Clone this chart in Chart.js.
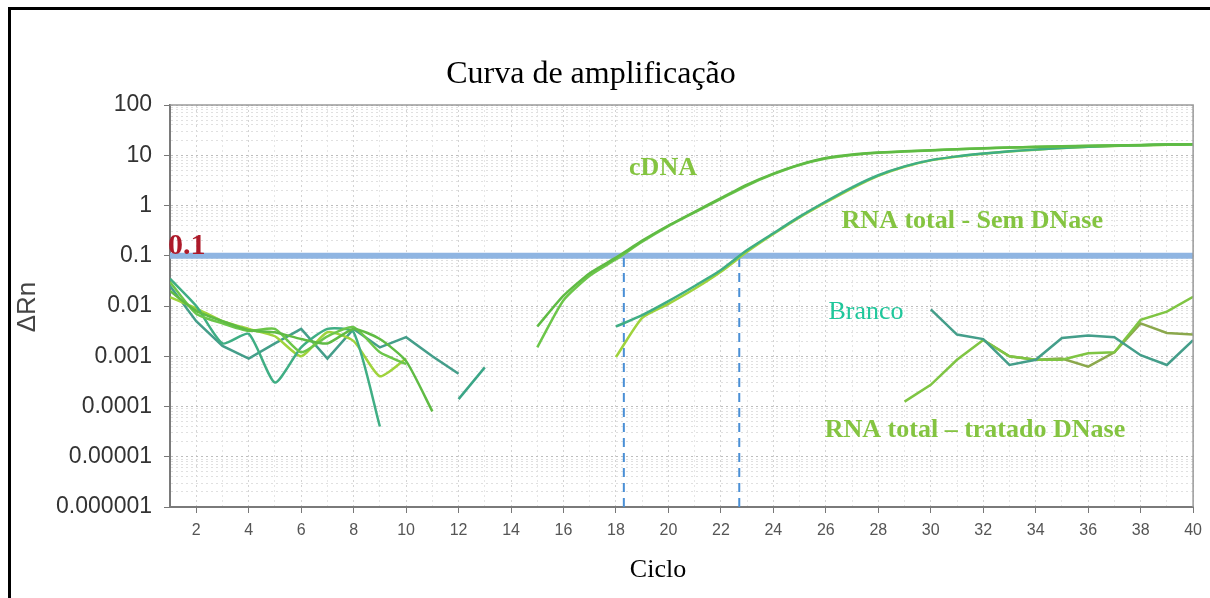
<!DOCTYPE html>
<html lang="pt">
<head>
<meta charset="utf-8">
<title>Curva de amplificação</title>
<script src="https://cdn.jsdelivr.net/npm/chart.js@4"></script>
<style>
  html, body { margin: 0; padding: 0; background: #fff; overflow: hidden; }
  #moldura { position: absolute; left: 8px; top: 7px; width: 1300px; height: 700px; border: 3px solid #000; }
  canvas { position: absolute; left: 0; top: 0; }
</style>
</head>
<body>
<div id="moldura"></div>
<canvas id="grafico" width="1210" height="598"></canvas>
<script>
// Ciclos de PCR
const ciclos = [1, 2, 3, 4, 5, 6, 7, 8, 9, 10, 11, 12, 13, 14, 15, 16, 17, 18, 19, 20,
                21, 22, 23, 24, 25, 26, 27, 28, 29, 30, 31, 32, 33, 34, 35, 36, 37, 38, 39, 40];

// ΔRn por poço (null = sem leitura)
const cdna1 = [0.020, 0.008, 0.005, 0.0033, 0.003, 0.0022, 0.0018, 0.0035, 0.0022, 0.0008,
               0.00008, null, null, null, 0.0039, 0.016, 0.045, 0.092, 0.20, 0.40,
               0.75, 1.4, 2.6, 4.3, 6.5, 8.8, 10.3, 11.3, 12.0, 12.6,
               13.2, 13.8, 14.3, 14.7, 15.1, 15.4, 15.7, 16.0, 16.3, 16.6];
const cdna2 = [0.030, 0.007, 0.0045, 0.0032, 0.0035, 0.0012, 0.0025, 0.0038, 0.0012, 0.0007,
               null, null, null, null, 0.0015, 0.013, 0.040, 0.085, 0.19, 0.39,
               0.73, 1.35, 2.5, 4.2, 6.4, 8.6, 10.1, 11.2, 11.9, 12.5,
               13.1, 13.7, 14.2, 14.6, 15.0, 15.3, 15.6, 15.9, 16.2, 16.5];
const semDnase1 = [0.035, 0.010, 0.0018, 0.0028, 0.0003, 0.0015, 0.0035, 0.0030, 0.00004, null,
                   null, null, null, null, null, null, null, 0.0039, 0.0066, 0.0125,
                   0.025, 0.052, 0.13, 0.28, 0.60, 1.2, 2.3, 4.0, 6.0, 8.0,
                   9.5, 10.8, 12.0, 13.0, 14.0, 14.8, 15.4, 15.9, 16.3, 16.6];
const semDnase2 = [0.015, 0.009, 0.005, 0.0035, 0.0025, 0.0010, 0.0030, 0.0020, 0.0004, 0.0009,
                   null, null, null, null, null, null, null, 0.00096, 0.0058, 0.011,
                   0.022, 0.048, 0.12, 0.27, 0.58, 1.15, 2.2, 3.9, 5.9, 7.9,
                   9.4, 10.7, 11.9, 12.9, 13.9, 14.7, 15.3, 15.8, 16.2, 16.5];
const branco1 = [0.025, 0.005, 0.0016, 0.0009, 0.0018, 0.0035, 0.0009, 0.0035, 0.0015, 0.0024,
                 0.0010, 0.00045, null, null, null, null, null, null, null, null,
                 null, null, null, null, null, null, null, null, null, 0.0086,
                 0.0027, 0.0022, 0.00067, 0.00085, 0.0023, 0.0026, 0.0024, 0.00105, 0.00067, 0.0021];
const branco2 = [null, null, null, null, null, null, null, null, null, null,
                 null, 0.00014, 0.0006, null, null, null, null, null, null, null,
                 null, null, null, null, null, null, null, null, null, null,
                 null, null, null, null, null, null, null, null, null, null];
const tratado1 = [null, null, null, null, null, null, null, null, null, null,
                  null, null, null, null, null, null, null, null, null, null,
                  null, null, null, null, null, null, null, null, 0.000125, 0.00027,
                  0.00085, 0.0021, 0.0010, 0.00085, 0.00085, 0.00115, 0.0012, 0.0053, 0.0077, 0.0153];
const tratado2 = [null, null, null, null, null, null, null, null, null, null,
                  null, null, null, null, null, null, null, null, null, null,
                  null, null, null, null, null, null, null, null, null, null,
                  null, 0.0021, 0.0010, 0.00085, 0.0009, 0.00062, 0.0012, 0.0045, 0.0029, 0.0027];

// Limiar e Ct
const limiar = 0.1;
const ctAmostras = [18.3, 22.7];

// Rótulos dos eixos
const decadasY = [0.000001, 0.00001, 0.0001, 0.001, 0.01, 0.1, 1, 10, 100];
const rotulosY = ['0.000001', '0.00001', '0.0001', '0.001', '0.01', '0.1', '1', '10', '100'];
const rotulosX = [2, 4, 6, 8, 10, 12, 14, 16, 18, 20, 22, 24, 26, 28, 30, 32, 34, 36, 38, 40];

// Textos sobre o gráfico (posição em ciclo / ΔRn)
const anotacoes = [
    { texto: 'cDNA', ciclo: 18.5, valor: 4.05, fonte: 'bold 26px "Liberation Serif"', cor: '#84c441' },
    { texto: 'RNA total - Sem DNase', ciclo: 26.6, valor: 0.356, fonte: 'bold 26px "Liberation Serif"', cor: '#84c441' },
    { texto: 'Branco', ciclo: 26.1, valor: 0.0055, fonte: '26px "Liberation Serif"', cor: '#1fc79b' },
    { texto: 'RNA total – tratado DNase', ciclo: 25.96, valor: 0.0000247, fonte: 'bold 26px "Liberation Serif"', cor: '#84c441' },
    { texto: '0.1', ciclo: 0.92, valor: 0.108, fonte: 'bold 30px "Liberation Serif"', cor: '#ad1a2a' }
];

function pontos(serie) {
    return ciclos.map((c, i) => ({ x: c, y: serie[i] }));
}

function ehDecada(v) {
    const l = Math.log10(v);
    return Math.abs(l - Math.round(l)) < 1e-9;
}

function curva(serie, cor, tensao) {
    return {
        data: pontos(serie),
        borderColor: cor,
        borderWidth: 2.5,
        pointRadius: 0,
        tension: tensao,
        spanGaps: false,
        order: 1
    };
}

const linhasCt = ctAmostras.map(ct => ({
    data: [{ x: ct, y: decadasY[0] }, { x: ct, y: limiar }],
    borderColor: '#4a8fd6',
    borderWidth: 2,
    borderDash: [9, 6],
    pointRadius: 0,
    order: 5
}));

const extras = {
    id: 'extras',
    afterDraw(chart) {
        const ctx = chart.ctx;
        const area = chart.chartArea;
        const sx = chart.scales.x, sy = chart.scales.y;
        ctx.save();

        // bordas superior e direita da área
        ctx.strokeStyle = '#9a9a9a';
        ctx.lineWidth = 1.5;
        ctx.beginPath();
        ctx.moveTo(area.left, area.top);
        ctx.lineTo(area.right, area.top);
        ctx.lineTo(area.right, area.bottom);
        ctx.stroke();

        // título e eixos
        ctx.fillStyle = '#000';
        ctx.textAlign = 'center';
        ctx.textBaseline = 'alphabetic';
        ctx.font = '32px "Liberation Serif"';
        ctx.fillText('Curva de amplificação', 591, 83);
        ctx.font = '26px "Liberation Serif"';
        ctx.fillText('Ciclo', 658, 577);

        ctx.save();
        ctx.translate(35, 307);
        ctx.rotate(-Math.PI / 2);
        ctx.fillStyle = '#444';
        ctx.font = '26px "Liberation Sans"';
        ctx.fillText('ΔRn', 0, 0);
        ctx.restore();

        // anotações
        ctx.textAlign = 'left';
        anotacoes.forEach(a => {
            ctx.font = a.fonte;
            ctx.fillStyle = a.cor;
            ctx.fillText(a.texto, sx.getPixelForValue(a.ciclo), sy.getPixelForValue(a.valor));
        });
        ctx.restore();
    }
};

new Chart(document.getElementById('grafico').getContext('2d'), {
    type: 'line',
    data: {
        datasets: [
            curva(cdna1, '#5fbb44', 0.2),
            curva(cdna2, '#6cc64a', 0.2),
            curva(semDnase1, '#3fae84', 0.2),
            curva(semDnase2, '#9fd33c', 0.2),
            curva(branco1, '#449e8a', 0),
            curva(branco2, '#3aa586', 0),
            curva(tratado1, '#7fc543', 0),
            curva(tratado2, '#8ba84c', 0),
            {
                data: [{ x: ciclos[0], y: limiar }, { x: ciclos[ciclos.length - 1], y: limiar }],
                borderColor: '#8fb5e2',
                borderWidth: 6,
                pointRadius: 0,
                order: 10
            },
            ...linhasCt
        ]
    },
    options: {
        responsive: false,
        animation: false,
        layout: { padding: { top: 105, right: 15, left: 0, bottom: 0 } },
        plugins: {
            legend: { display: false },
            title: { display: false },
            tooltip: { enabled: false }
        },
        scales: {
            x: {
                type: 'linear',
                min: 1,
                max: 40,
                afterFit(scale) { scale.height = 91; },
                afterBuildTicks(scale) { scale.ticks = ciclos.map(v => ({ value: v })); },
                ticks: {
                    autoSkip: false,
                    maxRotation: 0,
                    padding: 8,
                    color: '#555',
                    font: { family: 'Liberation Sans', size: 16 },
                    callback: v => rotulosX.includes(v) ? String(v) : ''
                },
                grid: {
                    color: ctx => (ctx.tick && rotulosX.includes(ctx.tick.value)) ? '#d4d4d4' : '#e6e6e6',
                    tickColor: ctx => (ctx.tick && rotulosX.includes(ctx.tick.value)) ? '#777' : 'rgba(0,0,0,0)',
                    tickLength: 6
                },
                border: { display: true, color: '#7a7a7a', width: 2, dash: [2, 3] }
            },
            y: {
                type: 'logarithmic',
                min: decadasY[0],
                max: decadasY[decadasY.length - 1],
                afterFit(scale) { scale.width = 170; },
                afterBuildTicks(scale) {
                    const marcas = [];
                    for (let k = -6; k <= 1; k++) {
                        for (let m = 1; m <= 9; m++) marcas.push({ value: m * Math.pow(10, k) });
                    }
                    marcas.push({ value: 100 });
                    scale.ticks = marcas;
                },
                ticks: {
                    autoSkip: false,
                    padding: 12,
                    color: '#333',
                    font: { family: 'Liberation Sans', size: 23 },
                    callback: v => {
                        const i = decadasY.findIndex(d => Math.abs(Math.log10(d) - Math.log10(v)) < 1e-9);
                        return i >= 0 ? rotulosY[i] : '';
                    }
                },
                grid: {
                    color: ctx => (ctx.tick && ehDecada(ctx.tick.value)) ? '#bdbdbd' : '#e0e0e0',
                    tickColor: ctx => (ctx.tick && ehDecada(ctx.tick.value)) ? '#777' : 'rgba(0,0,0,0)',
                    tickLength: 6
                },
                border: { display: true, color: '#7a7a7a', width: 2, dash: [2, 3] }
            }
        }
    },
    plugins: [extras]
});
</script>
</body>
</html>
